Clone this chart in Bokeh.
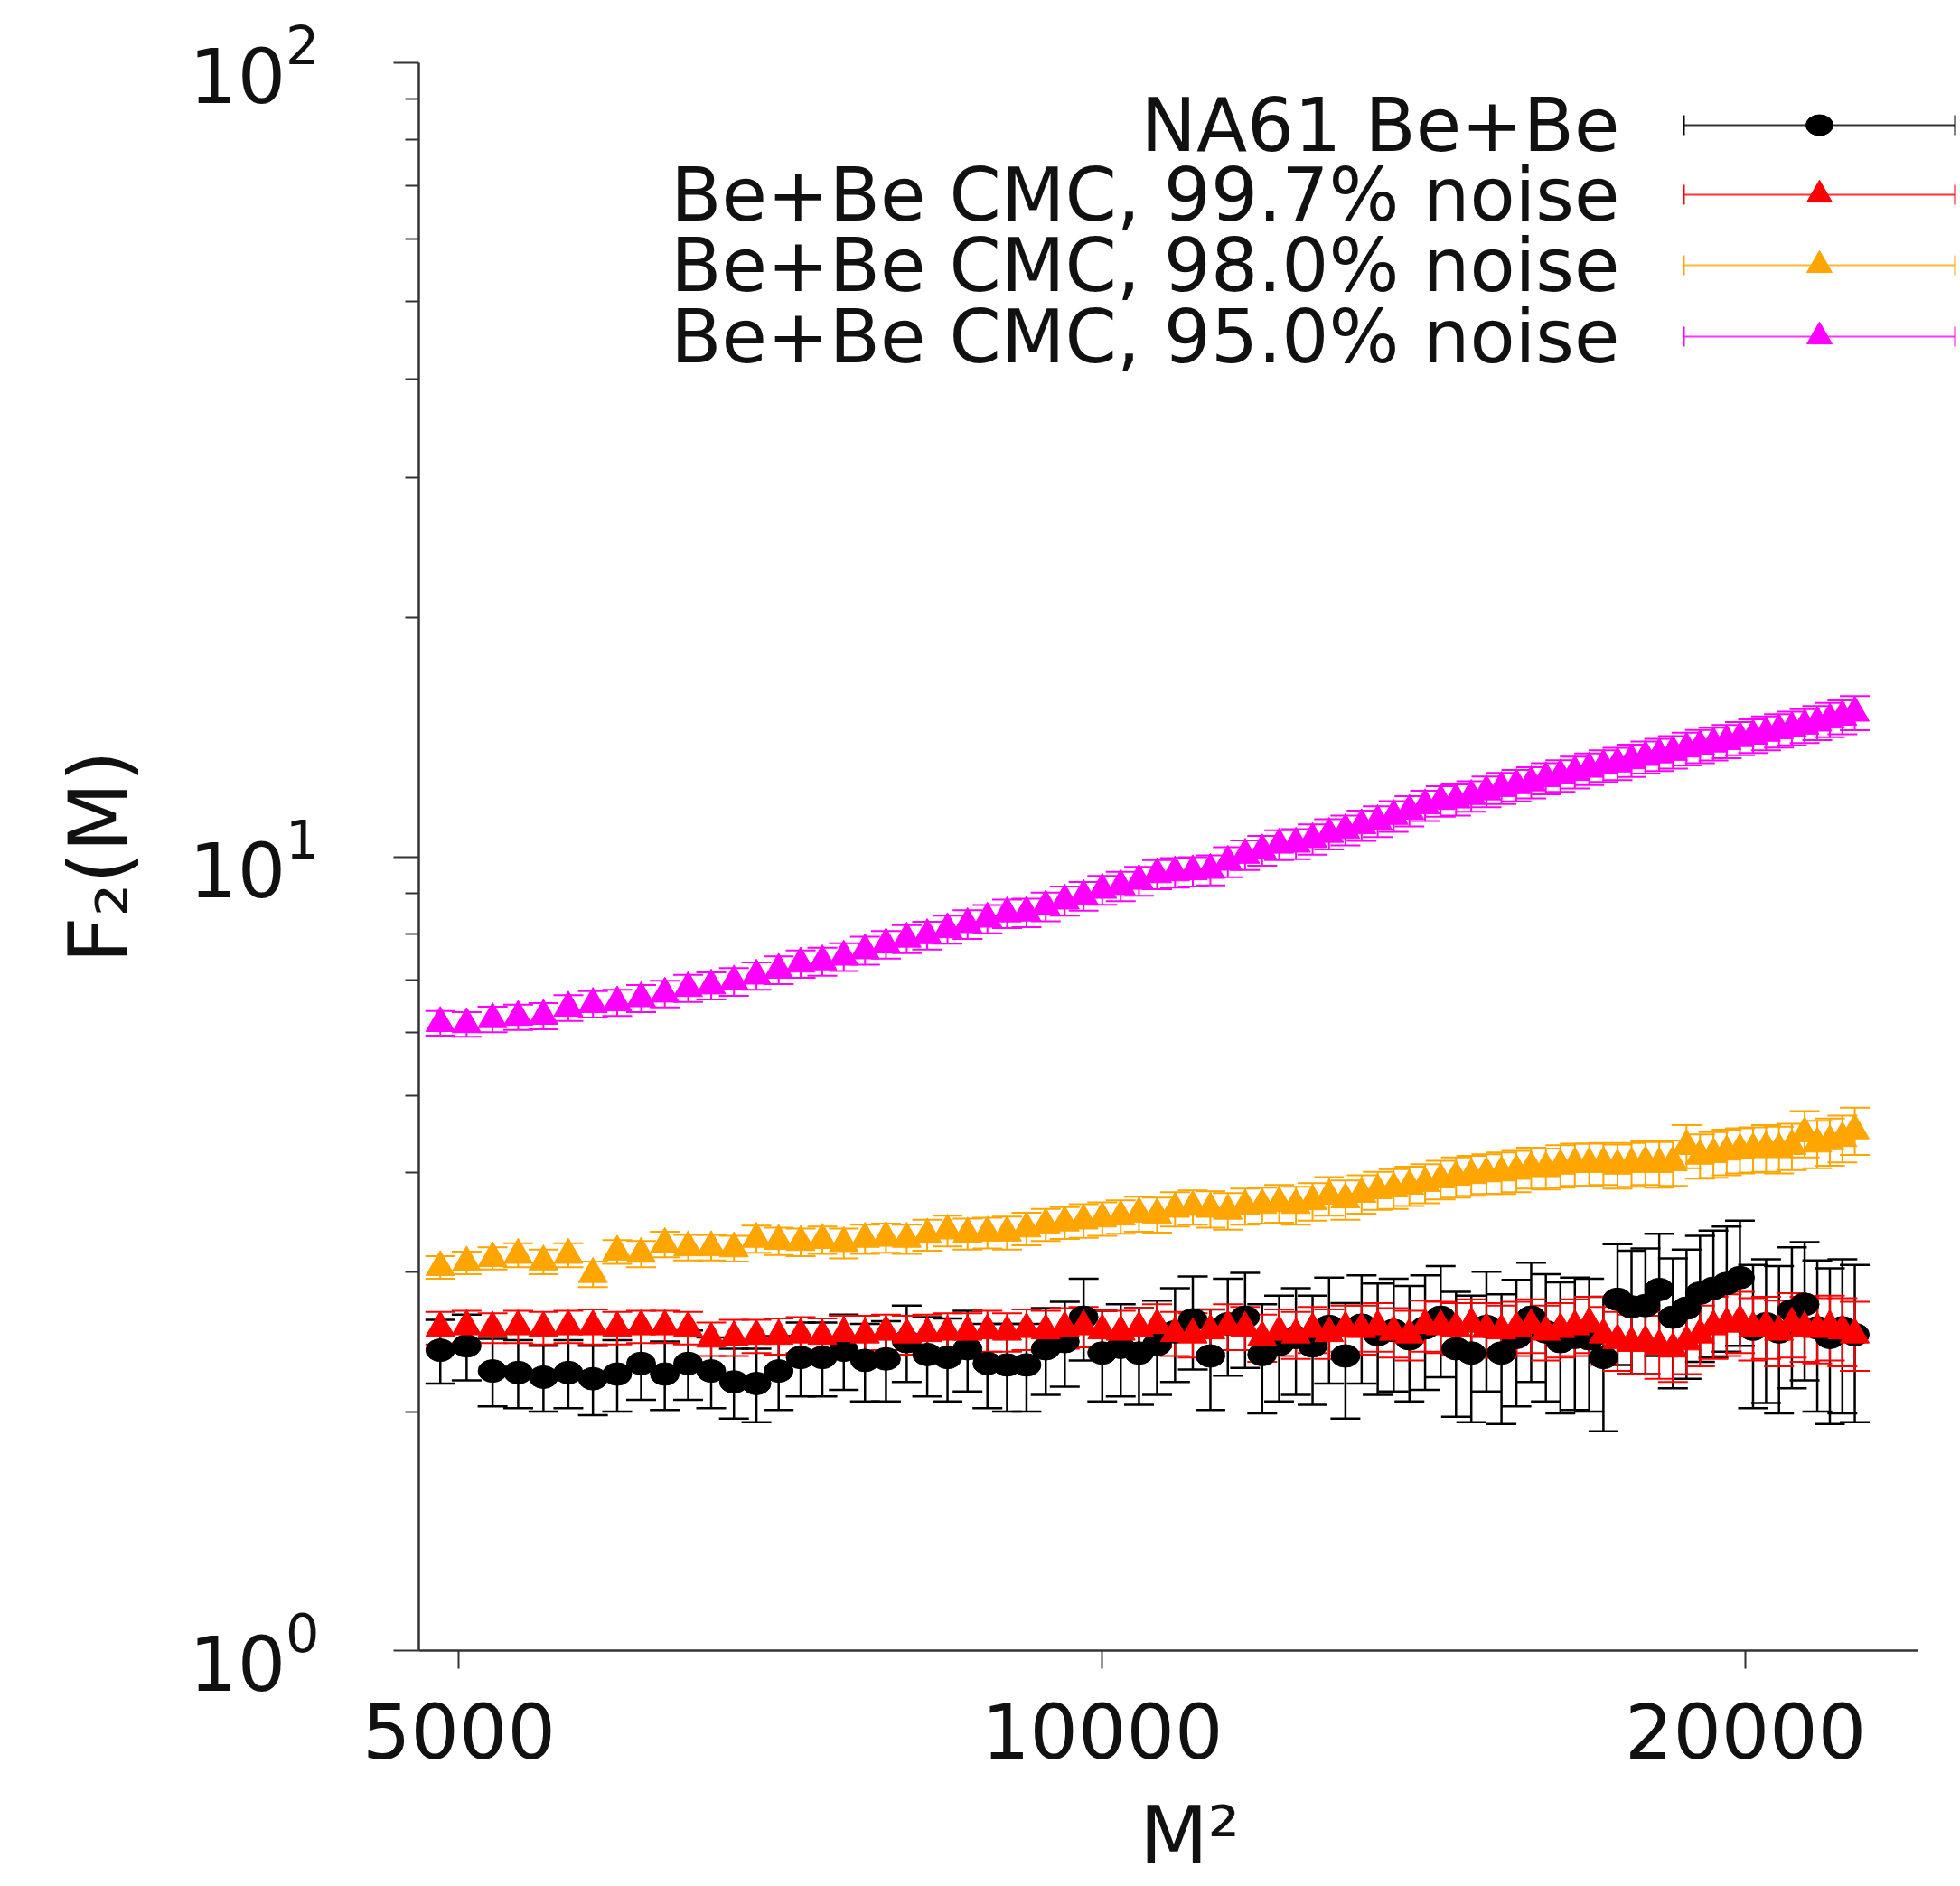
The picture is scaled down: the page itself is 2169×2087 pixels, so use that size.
import math
from bokeh.plotting import figure
from bokeh.models import Range1d, FixedTicker, Whisker, TeeHead, ColumnDataSource
from bokeh.core.properties import value
from bokeh.embed import file_html
from bokeh.resources import INLINE

# ---------------- data ----------------
M = [70, 71, 72, 73, 74, 75, 76, 77, 78, 79,
     80, 81, 82, 83, 84, 85, 86, 87, 88, 89,
     90, 91, 92, 93, 94, 95, 96, 97, 98, 99,
     100, 101, 102, 103, 104, 105, 106, 107, 108, 109,
     110, 111, 112, 113, 114, 115, 116, 117, 118, 119,
     120, 121, 122, 123, 124, 125, 126, 127, 128, 129,
     130, 131, 132, 133, 134, 135, 136, 137, 138, 139,
     140, 141, 142, 143, 144, 145, 146, 147, 148, 149, 150]
M_SQ = [m * m for m in M]

na61_f2 = [2.39, 2.42, 2.25, 2.24, 2.21, 2.24, 2.20, 2.23, 2.30, 2.23,
           2.30, 2.25, 2.18, 2.17, 2.25, 2.34, 2.34, 2.39, 2.32, 2.33,
           2.45, 2.36, 2.34, 2.40, 2.30, 2.29, 2.29, 2.40, 2.45, 2.63,
           2.37, 2.41, 2.37, 2.43, 2.52, 2.61, 2.35, 2.58, 2.63, 2.36,
           2.43, 2.48, 2.42, 2.56, 2.35, 2.57, 2.50, 2.53, 2.47, 2.55,
           2.63, 2.40, 2.37, 2.56, 2.37, 2.48, 2.63, 2.52, 2.45, 2.48,
           2.47, 2.34, 2.77, 2.71, 2.72, 2.85, 2.63, 2.70, 2.82, 2.86,
           2.90, 2.95, 2.54, 2.58, 2.52, 2.68, 2.73, 2.55, 2.48, 2.55, 2.50]
na61_err = [0.22, 0.23, 0.22, 0.22, 0.21, 0.22, 0.22, 0.23, 0.23, 0.22,
            0.23, 0.23, 0.22, 0.23, 0.24, 0.25, 0.25, 0.26, 0.26, 0.27,
            0.27, 0.27, 0.28, 0.28, 0.28, 0.29, 0.29, 0.30, 0.30, 0.31,
            0.31, 0.32, 0.33, 0.33, 0.34, 0.35, 0.34, 0.36, 0.36, 0.37,
            0.37, 0.38, 0.38, 0.39, 0.39, 0.40, 0.40, 0.41, 0.41, 0.42,
            0.42, 0.43, 0.43, 0.44, 0.44, 0.45, 0.45, 0.46, 0.46, 0.47,
            0.47, 0.45, 0.48, 0.48, 0.49, 0.50, 0.49, 0.50, 0.51, 0.52,
            0.52, 0.53, 0.52, 0.53, 0.53, 0.54, 0.54, 0.55, 0.55, 0.56, 0.56]

cmc997_f2 = [2.55, 2.56, 2.55, 2.56, 2.55, 2.56, 2.56, 2.55, 2.56, 2.56,
             2.55, 2.47, 2.48, 2.49, 2.49, 2.50, 2.49, 2.51, 2.50, 2.52,
             2.50, 2.51, 2.52, 2.52, 2.53, 2.52, 2.54, 2.53, 2.55, 2.56,
             2.53, 2.52, 2.55, 2.57, 2.51, 2.50, 2.53, 2.56, 2.55, 2.48,
             2.52, 2.50, 2.54, 2.51, 2.55, 2.54, 2.56, 2.52, 2.50, 2.57,
             2.56, 2.55, 2.58, 2.54, 2.53, 2.55, 2.57, 2.52, 2.54, 2.56,
             2.58, 2.50, 2.46, 2.44, 2.45, 2.42, 2.40, 2.45, 2.50, 2.56,
             2.58, 2.60, 2.55, 2.56, 2.52, 2.58, 2.55, 2.54, 2.56, 2.53, 2.50]
cmc997_err = [0.12, 0.12, 0.11, 0.12, 0.12, 0.12, 0.13, 0.12, 0.12, 0.12,
              0.12, 0.12, 0.13, 0.12, 0.13, 0.13, 0.13, 0.13, 0.14, 0.13,
              0.14, 0.14, 0.14, 0.14, 0.15, 0.14, 0.15, 0.15, 0.15, 0.15,
              0.15, 0.16, 0.15, 0.16, 0.16, 0.16, 0.16, 0.17, 0.16, 0.17,
              0.17, 0.17, 0.17, 0.18, 0.17, 0.18, 0.18, 0.18, 0.18, 0.19,
              0.19, 0.19, 0.19, 0.20, 0.19, 0.20, 0.20, 0.20, 0.20, 0.21,
              0.21, 0.21, 0.21, 0.21, 0.22, 0.22, 0.22, 0.22, 0.22, 0.23,
              0.23, 0.23, 0.23, 0.23, 0.24, 0.24, 0.24, 0.24, 0.24, 0.25, 0.25]

cmc980_f2 = [3.04, 3.08, 3.12, 3.15, 3.09, 3.15, 2.98, 3.18, 3.16, 3.25,
             3.22, 3.22, 3.21, 3.30, 3.28, 3.27, 3.29, 3.26, 3.30, 3.31,
             3.30, 3.34, 3.38, 3.35, 3.36, 3.36, 3.40, 3.44, 3.46, 3.48,
             3.50, 3.52, 3.55, 3.54, 3.60, 3.62, 3.60, 3.58, 3.63, 3.64,
             3.66, 3.64, 3.68, 3.74, 3.70, 3.76, 3.80, 3.82, 3.85, 3.88,
             3.92, 3.95, 3.97, 3.99, 4.00, 4.02, 4.06, 4.05, 4.08, 4.10,
             4.10, 4.11, 4.08, 4.10, 4.12, 4.10, 4.12, 4.32, 4.20, 4.22,
             4.25, 4.27, 4.28, 4.30, 4.28, 4.32, 4.48, 4.35, 4.38, 4.42, 4.52]
cmc980_err = [0.10, 0.10, 0.10, 0.11, 0.11, 0.11, 0.11, 0.11, 0.12, 0.12,
              0.12, 0.12, 0.12, 0.13, 0.13, 0.13, 0.13, 0.14, 0.14, 0.14,
              0.14, 0.15, 0.15, 0.15, 0.15, 0.16, 0.16, 0.16, 0.16, 0.17,
              0.17, 0.17, 0.18, 0.18, 0.18, 0.18, 0.19, 0.19, 0.19, 0.19,
              0.20, 0.20, 0.20, 0.21, 0.21, 0.21, 0.21, 0.22, 0.22, 0.22,
              0.22, 0.23, 0.23, 0.23, 0.24, 0.24, 0.24, 0.24, 0.25, 0.25,
              0.25, 0.25, 0.26, 0.26, 0.26, 0.27, 0.27, 0.27, 0.27, 0.28,
              0.28, 0.28, 0.28, 0.29, 0.29, 0.29, 0.30, 0.30, 0.30, 0.30, 0.31]

cmc950_f2 = [6.17, 6.15, 6.24, 6.28, 6.30, 6.45, 6.52, 6.55, 6.63, 6.72,
             6.83, 6.88, 6.96, 7.08, 7.20, 7.33, 7.38, 7.48, 7.62, 7.75,
             7.88, 7.96, 8.10, 8.22, 8.35, 8.48, 8.50, 8.65, 8.80, 8.92,
             9.08, 9.18, 9.32, 9.50, 9.55, 9.58, 9.62, 9.85, 10.05, 10.18,
             10.35, 10.38, 10.52, 10.68, 10.80, 10.95, 11.08, 11.25, 11.42, 11.60,
             11.75, 11.80, 11.92, 12.08, 12.20, 12.30, 12.40, 12.55, 12.65, 12.78,
             12.90, 13.02, 13.10, 13.22, 13.35, 13.45, 13.55, 13.68, 13.78, 13.88,
             13.98, 14.10, 14.20, 14.32, 14.42, 14.52, 14.62, 14.75, 14.88, 15.00, 15.18]
cmc950_err = [0.22, 0.22, 0.23, 0.23, 0.24, 0.24, 0.25, 0.25, 0.26, 0.26,
              0.27, 0.27, 0.28, 0.28, 0.29, 0.29, 0.30, 0.30, 0.31, 0.31,
              0.32, 0.32, 0.33, 0.34, 0.34, 0.35, 0.35, 0.36, 0.37, 0.37,
              0.38, 0.39, 0.39, 0.40, 0.41, 0.41, 0.42, 0.43, 0.43, 0.44,
              0.45, 0.45, 0.46, 0.47, 0.47, 0.48, 0.49, 0.50, 0.50, 0.51,
              0.52, 0.53, 0.53, 0.54, 0.55, 0.56, 0.56, 0.57, 0.58, 0.59,
              0.59, 0.60, 0.61, 0.62, 0.62, 0.63, 0.64, 0.65, 0.66, 0.66,
              0.67, 0.68, 0.69, 0.70, 0.70, 0.71, 0.72, 0.73, 0.74, 0.74, 0.75]

LABELS = ["NA61 Be+Be",
          "Be+Be CMC, 99.7% noise",
          "Be+Be CMC, 98.0% noise",
          "Be+Be CMC, 95.0% noise"]
X_TICKS = [5000, 10000, 20000]
Y_TICKS = [1, 10, 100]
Y_MINOR = [2, 3, 4, 5, 6, 7, 8, 9, 20, 30, 40, 50, 60, 70, 80, 90]
X_TITLE = "M²"
Y_TITLE = "F₂(M)"

# ---------------- layout ----------------
FONT = "DejaVu Sans"
W, H = 2169, 2087
FRAME_L, FRAME_T, FRAME_B = 463, 69, 1826
X_START, X_END = 4788, 25214
X_AXIS_END = 24084
Y_START, Y_END = 1, 100
TXT = "#111111"
AX = "#333333"

BLACK, RED, ORANGE, MAGENTA = "#000000", "#ff0000", "#ffa500", "#ff00ff"

p = figure(width=W, height=H, x_axis_type="log", y_axis_type="log",
           x_range=Range1d(X_START, X_END), y_range=Range1d(Y_START, Y_END),
           output_backend="svg", toolbar_location=None, tools="",
           min_border_left=FRAME_L, min_border_right=0,
           min_border_top=FRAME_T, min_border_bottom=H - FRAME_B)
p.xgrid.visible = False
p.ygrid.visible = False
p.outline_line_color = None
p.background_fill_color = "white"
p.border_fill_color = "white"

xa = p.xaxis[0]
xa.ticker = FixedTicker(ticks=X_TICKS, minor_ticks=[])
xa.bounds = (X_START, X_AXIS_END)
xa.axis_line_color = AX
xa.axis_line_width = 2.5
xa.major_tick_out = 20
xa.major_tick_in = 0
xa.major_tick_line_width = 2
xa.major_tick_line_color = AX
xa.minor_tick_line_color = None
xa.major_label_text_font = FONT
xa.major_label_text_font_size = "84px"
xa.major_label_text_color = TXT
xa.major_label_standoff = 37
xa.axis_label = X_TITLE
xa.axis_label_text_font = FONT
xa.axis_label_text_font_size = "88px"
xa.axis_label_text_font_style = "normal"
xa.axis_label_text_color = TXT
xa.axis_label_standoff = 30

ya = p.yaxis[0]
ya.ticker = FixedTicker(ticks=Y_TICKS, minor_ticks=Y_MINOR)
ya.axis_line_color = AX
ya.axis_line_width = 2.5
ya.major_tick_out = 28
ya.major_tick_in = 0
ya.minor_tick_out = 15
ya.minor_tick_in = 0
ya.major_tick_line_width = 2
ya.minor_tick_line_width = 2
ya.major_tick_line_color = AX
ya.minor_tick_line_color = AX
ya.major_label_text_font = FONT
ya.major_label_text_font_size = "84px"
ya.major_label_text_color = TXT
ya.major_label_standoff = 82
ya.axis_label = Y_TITLE
ya.axis_label_text_font = FONT
ya.axis_label_text_font_size = "90px"
ya.axis_label_text_font_style = "normal"
ya.axis_label_text_color = TXT
ya.axis_label_standoff = 44


def add_series(vals, errs, color, marker, bar_width):
    src = ColumnDataSource(dict(
        x=M_SQ, y=vals,
        lo=[v - e for v, e in zip(vals, errs)],
        hi=[v + e for v, e in zip(vals, errs)]))
    w = Whisker(source=src, base="x", upper="hi", lower="lo", dimension="height",
                line_color=color, line_width=bar_width,
                upper_head=TeeHead(size=33, line_color=color, line_width=bar_width),
                lower_head=TeeHead(size=33, line_color=color, line_width=bar_width))
    p.add_layout(w)
    if marker == "circle":
        p.ellipse(x="x", y="y", width=32, height=25, width_units="screen",
                  height_units="screen", source=src, fill_color=color,
                  line_color=color)
    else:
        p.scatter(x="x", y="y", source=src, marker="triangle", size=32,
                  fill_color=color, line_color=color)


add_series(na61_f2, na61_err, BLACK, "circle", 2.5)
add_series(cmc997_f2, cmc997_err, RED, "triangle", 2)
add_series(cmc980_f2, cmc980_err, ORANGE, "triangle", 2)
add_series(cmc950_f2, cmc950_err, MAGENTA, "triangle", 2)

# ---------------- legend (text left, sample right) ----------------
lx0, lx1 = math.log10(X_START), math.log10(X_END)


def sx_to_x(sx):
    return 10 ** (lx0 + (sx - FRAME_L) / (W - FRAME_L) * (lx1 - lx0))


def sy_to_y(sy):
    return 10 ** ((FRAME_B - sy) / (FRAME_B - FRAME_T) * (math.log10(Y_END) - math.log10(Y_START)))


LEG_ROWS = [138, 215, 293, 372]
LEG_TEXT_R = 1792
LEG_LINE = (1863, 2163)
LEG_MARK = 2013
leg_colors = [BLACK, RED, ORANGE, MAGENTA]
ys = [sy_to_y(s) for s in LEG_ROWS]

p.text(x=[sx_to_x(LEG_TEXT_R)] * 4, y=ys, text=LABELS, text_align="right",
       text_baseline="middle", text_font=value(FONT),
       text_font_size=value("82px"), text_color=TXT)
p.segment(x0=[sx_to_x(LEG_LINE[0])] * 4, x1=[sx_to_x(LEG_LINE[1])] * 4,
          y0=ys, y1=ys, line_color=leg_colors, line_width=2, line_alpha=0.8)
for sx in LEG_LINE:
    p.scatter(x=[sx_to_x(sx)] * 4, y=ys, marker="dash", angle=math.pi / 2,
              size=22, line_color=leg_colors, line_width=2)
p.ellipse(x=[sx_to_x(LEG_MARK)], y=[ys[0]], width=30, height=23,
          width_units="screen", height_units="screen", fill_color=BLACK,
          line_color=BLACK)
p.scatter(x=[sx_to_x(LEG_MARK)] * 3, y=ys[1:], marker="triangle", size=28,
          fill_color=leg_colors[1:], line_color=leg_colors[1:])

open("out.html", "w").write(file_html(p, INLINE))
